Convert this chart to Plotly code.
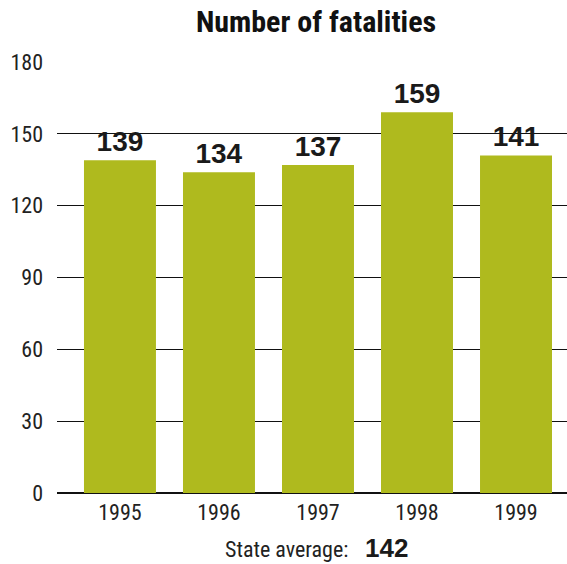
import plotly.graph_objects as go

years = ["1995", "1996", "1997", "1998", "1999"]
fatalities = [139, 134, 137, 159, 141]
y_ticks = [0, 30, 60, 90, 120, 150, 180]
title_text = "Number of fatalities"
average_label = "State average:"
state_average = 142

NARROW = "Liberation Sans Narrow, Arial Narrow, Roboto Condensed, sans-serif"
BOLD = "Liberation Sans, Arial, Helvetica, sans-serif"

L, R, T, B = 57, 0, 62, 71
PW = 567 - L - R
PH = 564 - T - B

fig = go.Figure()
fig.add_trace(go.Bar(
    x=list(range(len(years))),
    y=fatalities,
    text=[str(v) for v in fatalities],
    textposition="outside",
    textfont=dict(family=BOLD, size=28, color="#1a1a1a", weight="bold"),
    marker=dict(color="#AFBA1E", line=dict(width=0)),
    width=0.727,
    cliponaxis=False,
    hoverinfo="skip",
))

fig.update_layout(
    width=567, height=564,
    margin=dict(l=L, r=R, t=T, b=B, pad=0),
    paper_bgcolor="white", plot_bgcolor="white",
    showlegend=False,
    title=dict(text=f"<b>{title_text}</b>", x=316 / 567, xanchor="center", y=1 - 21 / 564, yanchor="middle",
               font=dict(family=NARROW, size=30, color="#111111")),
    xaxis=dict(
        range=[-0.636, 4.515],
        tickmode="array", tickvals=list(range(len(years))), ticktext=years,
        showgrid=False, zeroline=False, showline=False, ticks="",
        ticklabelstandoff=4,
        tickfont=dict(family=NARROW, size=22, color="#222222"),
        fixedrange=True,
    ),
    yaxis=dict(
        range=[0, 180],
        tickmode="array", tickvals=y_ticks,
        showgrid=True, gridcolor="#111111", gridwidth=1.2,
        zeroline=True, zerolinecolor="#111111", zerolinewidth=1.5,
        showline=False, ticks="", ticklabelstandoff=13,
        tickfont=dict(family=NARROW, size=22, color="#222222"),
        fixedrange=True,
    ),
    annotations=[
        dict(text=average_label, xref="paper", yref="paper", x=(350 - L) / PW, y=-(549 - 493) / PH,
             xanchor="right", yanchor="middle", showarrow=False,
             font=dict(family=NARROW, size=22, color="#222222")),
        dict(text=f"<b>{state_average}</b>", xref="paper", yref="paper", x=(363 - L) / PW, y=-(548 - 493) / PH,
             xanchor="left", yanchor="middle", showarrow=False,
             font=dict(family=BOLD, size=26, color="#1a1a1a")),
    ],
)

fig.write_html("out.html", config={"displayModeBar": False},
               post_script="document.body.style.margin='0';document.body.style.padding='0';")
